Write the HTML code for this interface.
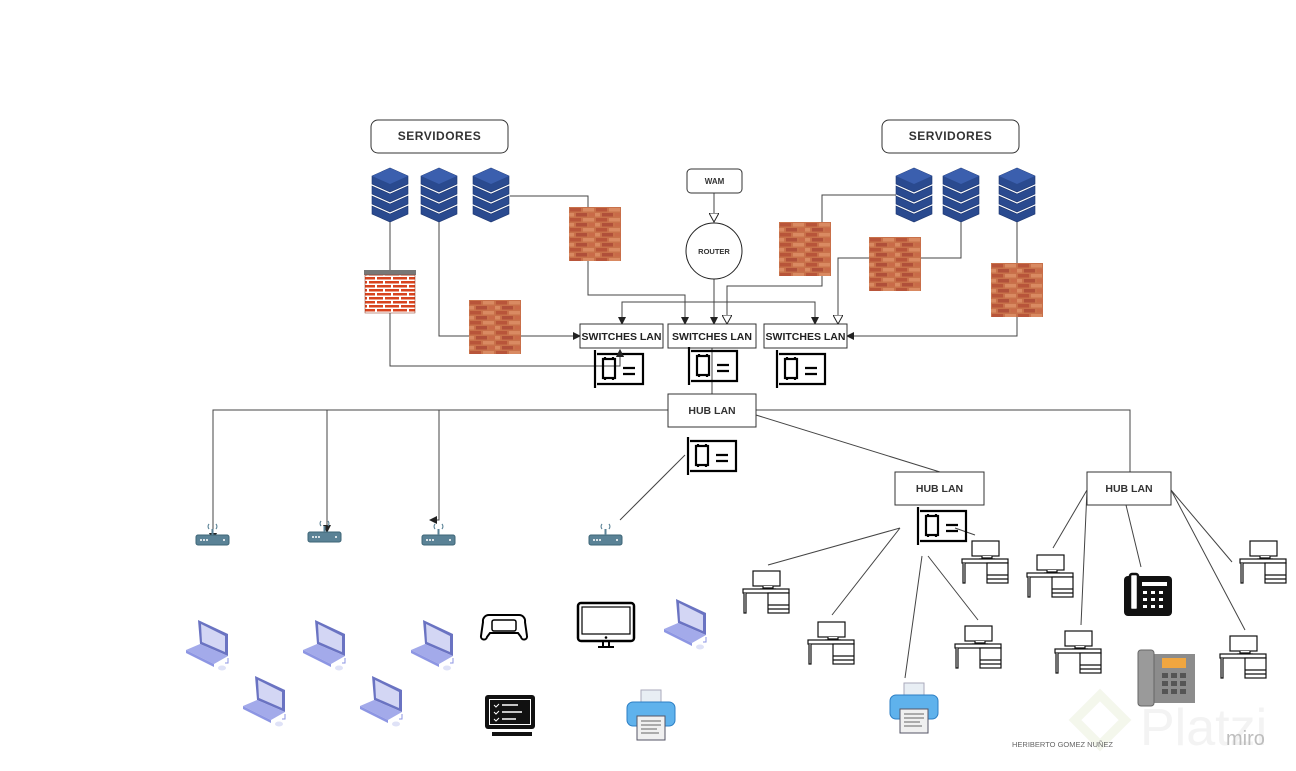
<!DOCTYPE html>
<html><head><meta charset="utf-8"><style>
html,body{margin:0;padding:0;background:#fff;}
svg{display:block;font-family:"Liberation Sans",sans-serif;}
</style></head><body>
<svg width="1296" height="771" viewBox="0 0 1296 771" xmlns="http://www.w3.org/2000/svg">
<defs>
<marker id="a" markerWidth="8" markerHeight="8" refX="7" refY="4" orient="auto" markerUnits="userSpaceOnUse"><path d="M0,0 L8,4 L0,8 z" fill="#222"/></marker>
<marker id="o" markerWidth="10" markerHeight="10" refX="9" refY="5" orient="auto" markerUnits="userSpaceOnUse"><path d="M0,0 L9,5 L0,10 z" fill="#fff" stroke="#222"/></marker>
<pattern id="brick" width="26" height="10" patternUnits="userSpaceOnUse">
<rect width="26" height="10" fill="#c8714a"/>
<rect x="1" y="1" width="11" height="3.5" fill="#b8553a"/><rect x="14" y="1" width="11" height="3.5" fill="#d98a62"/>
<rect x="-6" y="6" width="11" height="3.5" fill="#d98a62"/><rect x="7" y="6" width="11" height="3.5" fill="#b0503a"/><rect x="20" y="6" width="11" height="3.5" fill="#c96a48"/>
</pattern>
<pattern id="brick2" width="16" height="8" patternUnits="userSpaceOnUse">
<rect width="16" height="8" fill="#fff"/>
<rect x="1" y="1" width="14" height="2.5" fill="#d8431e"/><rect x="-7" y="5" width="14" height="2.5" fill="#d8431e"/><rect x="9" y="5" width="14" height="2.5" fill="#d8431e"/>
</pattern>
<g id="srv">
<g fill="#2a4a8f" stroke="#1c3570" stroke-width="0.6">
<path d="M0,38 L18,46 L36,38 L36,46 L18,54 L0,46z"/>
<path d="M0,28 L18,36 L36,28 L36,36 L18,44 L0,36z"/>
<path d="M0,18 L18,26 L36,18 L36,26 L18,34 L0,26z"/>
<path d="M0,8 L18,0 L36,8 L36,16 L18,24 L0,16z"/>
</g>
<path d="M0,8 L18,16 L36,8 L18,0z" fill="#3b5fae"/>
</g>
<g id="fw"><rect width="52" height="54" fill="url(#brick)"/></g>
<g id="nic" fill="none" stroke="#000" stroke-width="2.2">
<path d="M0,0 L0,38"/><path d="M2,4 L48,4 L48,34 L2,34"/>
<rect x="8" y="9" width="12" height="19"/><path d="M10,7 v2 M18,7 v2 M10,28 v2 M18,28 v2"/>
<path d="M28,18 h12 M28,24 h12"/>
</g>
<g id="wifi">
<rect x="0" y="12" width="33" height="10" rx="2" fill="#5a8296" stroke="#3e6677"/>
<circle cx="5" cy="17" r="1" fill="#fff"/><circle cx="8" cy="17" r="1" fill="#fff"/><circle cx="11" cy="17" r="1" fill="#fff"/><circle cx="28" cy="17" r="1" fill="#fff"/>
<path d="M16.5,12 v-6" stroke="#5a8296" stroke-width="2"/>
<path d="M13,6 a4,4 0 0 1 0,-5 M20,1 a4,4 0 0 1 0,5" stroke="#5a8296" fill="none" stroke-width="1.2"/>
</g>
<g id="desk" fill="#fff" stroke="#111" stroke-width="1.2">
<rect x="10" y="0" width="27" height="15"/><path d="M20,15 v2 h10 v-2 M17,18 h16"/>
<rect x="0" y="18" width="46" height="4"/><path d="M1,22 v20 h2 v-20"/>
<rect x="25" y="22" width="21" height="20"/><path d="M25,34 h21 M25,38 h21"/>
</g>
<g id="lap">
<path d="M12,0 L42,14 L42,36 L14,24z" fill="#6a73c2"/><path d="M15,4 L39,16 L39,32 L16,22z" fill="#d3d6f4"/>
<path d="M0,30 L14,24 L42,36 L28,44z" fill="#a3aaea"/><path d="M0,30 L28,44 L28,47 L0,33z" fill="#8d96e3"/>
<path d="M42,38 v5 h-3" stroke="#8d96e3" fill="none"/><ellipse cx="36" cy="48" rx="4" ry="2.5" fill="#dfe2f7"/>
</g>
<g id="prn">
<rect x="14" y="0" width="20" height="14" fill="#e8eef4" stroke="#aab"/>
<rect x="0" y="12" width="48" height="24" rx="6" fill="#5fb2ec" stroke="#2d7fc4"/>
<rect x="10" y="26" width="28" height="24" fill="#f0f0f0" stroke="#556"/>
<path d="M14,31 h20 M14,35 h20 M14,39 h16 M14,43 h18" stroke="#666"/>
</g>
</defs>

<rect x="371" y="120" width="137" height="33" rx="7" fill="#fff" stroke="#333"/>
<text x="439.5" y="140" font-size="12" font-weight="bold" text-anchor="middle" fill="#333" letter-spacing="0.5">SERVIDORES</text>
<rect x="882" y="120" width="137" height="33" rx="7" fill="#fff" stroke="#333"/>
<text x="950.5" y="140" font-size="12" font-weight="bold" text-anchor="middle" fill="#333" letter-spacing="0.5">SERVIDORES</text>

<g fill="none" stroke="#444" stroke-width="1">
<path d="M390,222 V270 M390,313 V366 H620 V350" marker-end="url(#a)"/>
<path d="M439,222 V336 H580" marker-end="url(#a)"/>
<path d="M510,196 H588 V295 H685 V324" marker-end="url(#a)"/>
<path d="M714,193 V222" marker-end="url(#o)"/>
<path d="M714,279 V324" marker-end="url(#a)"/>
<path d="M714,302 H622 V324" marker-end="url(#a)"/>
<path d="M714,302 H815 V324" marker-end="url(#a)"/>
<path d="M896,195 H822 V222 M822,274 V286 H727 V324" marker-end="url(#o)"/>
<path d="M961,222 V258 H921 M869,258 H838 V324" marker-end="url(#o)"/>
<path d="M1017,222 V263 M1017,316 V336 H847" marker-end="url(#a)"/>
<path d="M712,348 V394"/>
<path d="M668,410 H213 V540" marker-end="url(#a)"/>
<path d="M327,410 V532" marker-end="url(#a)"/>
<path d="M439,410 V520 H430" marker-end="url(#a)"/>
<path d="M756,410 H1130 V472"/>
<path d="M756,415 L940,472"/>
<path d="M685,455 L620,520"/>
<path d="M900,528 L768,565 M900,528 L832,615 M922,556 L905,678 M928,556 L978,620 M955,528 L975,535"/>
<path d="M1087,490 L1053,548 M1087,490 L1081,625 M1126,505 L1141,567 M1171,490 L1232,562 M1171,490 L1245,630"/>
</g>

<use href="#srv" x="372" y="168"/><use href="#srv" x="421" y="168"/><use href="#srv" x="473" y="168"/>
<use href="#srv" x="896" y="168"/><use href="#srv" x="943" y="168"/><use href="#srv" x="999" y="168"/>

<rect x="364" y="270" width="52" height="5" fill="#777"/>
<rect x="365" y="275" width="50" height="38" fill="url(#brick2)" stroke="#8a2a10" stroke-width="0.5"/>
<use href="#fw" x="569" y="207"/><use href="#fw" x="469" y="300"/>
<use href="#fw" x="779" y="222"/><use href="#fw" x="869" y="237"/><use href="#fw" x="991" y="263"/>

<rect x="687" y="169" width="55" height="24" rx="4" fill="#fff" stroke="#333"/>
<text x="714.5" y="184" font-size="8" font-weight="bold" text-anchor="middle" fill="#333">WAM</text>
<circle cx="714" cy="251" r="28" fill="#fff" stroke="#222"/>
<text x="714" y="254" font-size="7.5" font-weight="bold" text-anchor="middle" fill="#333">ROUTER</text>

<g fill="#fff" stroke="#333"><rect x="580" y="324" width="83" height="24"/><rect x="668" y="324" width="88" height="24"/><rect x="764" y="324" width="83" height="24"/></g>
<g font-size="10.5" font-weight="bold" text-anchor="middle" fill="#222">
<text x="621.5" y="340">SWITCHES LAN</text><text x="712" y="340">SWITCHES LAN</text><text x="805.5" y="340">SWITCHES LAN</text></g>
<use href="#nic" x="595" y="350"/><use href="#nic" x="689" y="347"/><use href="#nic" x="777" y="350"/>
<path d="M620,366 V350" stroke="#444" marker-end="url(#a)"/>

<g fill="#fff" stroke="#333"><rect x="668" y="394" width="88" height="33"/><rect x="895" y="472" width="89" height="33"/><rect x="1087" y="472" width="84" height="33"/></g>
<g font-size="10.5" font-weight="bold" text-anchor="middle" fill="#333">
<text x="712" y="414">HUB LAN</text><text x="939.5" y="492">HUB LAN</text><text x="1129" y="492">HUB LAN</text></g>
<use href="#nic" x="688" y="437"/><use href="#nic" x="918" y="507"/>

<use href="#wifi" x="196" y="523"/><use href="#wifi" x="308" y="520"/><use href="#wifi" x="422" y="523"/><use href="#wifi" x="589" y="523"/>

<use href="#desk" x="743" y="571"/><use href="#desk" x="808" y="622"/><use href="#desk" x="955" y="626"/><use href="#desk" x="962" y="541"/>
<use href="#desk" x="1027" y="555"/><use href="#desk" x="1055" y="631"/><use href="#desk" x="1240" y="541"/><use href="#desk" x="1220" y="636"/>

<use href="#lap" x="186" y="620"/><use href="#lap" x="303" y="620"/><use href="#lap" x="411" y="620"/>
<use href="#lap" x="243" y="676"/><use href="#lap" x="360" y="676"/><use href="#lap" x="664" y="599"/>

<rect x="578" y="603" width="56" height="38" rx="3" fill="#fff" stroke="#000" stroke-width="2.5"/>
<rect x="582" y="607" width="48" height="27" fill="none" stroke="#000" stroke-width="1.2"/>
<circle cx="606" cy="637.5" r="1.3"/><path d="M603,641 v5 M609,641 v5 M598,647 h16" stroke="#000" stroke-width="2"/>
<path d="M489,615 h30 a6,6 0 0 1 6,7 l2,14 a3,3 0 0 1 -6,1 l-3,-4 h-28 l-3,4 a3,3 0 0 1 -6,-1 l2,-14 a6,6 0 0 1 6,-7z" fill="#fff" stroke="#000" stroke-width="2"/>
<rect x="492" y="620" width="24" height="11" rx="2" fill="none" stroke="#000" stroke-width="1.5"/>
<rect x="485" y="695" width="50" height="34" rx="3" fill="#111"/>
<rect x="489" y="699" width="42" height="26" fill="#fff"/><rect x="490" y="700" width="40" height="24" fill="#111"/>
<path d="M494,705 l2,2 3,-3 M494,712 l2,2 3,-3 M494,719 l2,2 3,-3" stroke="#fff" fill="none"/>
<path d="M502,705 h16 M502,712 h20 M502,719 h14" stroke="#fff" stroke-width="1.5"/>
<rect x="492" y="732" width="40" height="4" fill="#111"/>
<use href="#prn" x="627" y="690"/><use href="#prn" x="890" y="683"/>
<rect x="1124" y="576" width="48" height="40" rx="4" fill="#111"/>
<rect x="1130" y="574" width="8" height="36" rx="2" fill="#fff" stroke="#111" stroke-width="2.5"/>
<rect x="1142" y="582" width="25" height="4" fill="#fff"/>
<g fill="#fff"><rect x="1143" y="591" width="4" height="3"/><rect x="1151" y="591" width="4" height="3"/><rect x="1159" y="591" width="4" height="3"/><rect x="1143" y="598" width="4" height="3"/><rect x="1151" y="598" width="4" height="3"/><rect x="1159" y="598" width="4" height="3"/><rect x="1143" y="605" width="4" height="3"/><rect x="1151" y="605" width="4" height="3"/><rect x="1159" y="605" width="4" height="3"/></g>
<rect x="1148" y="654" width="47" height="49" fill="#8c8c8c"/>
<rect x="1138" y="650" width="16" height="56" rx="3" fill="#9a9a9a" stroke="#666"/>
<rect x="1162" y="658" width="24" height="10" fill="#f0a640"/>
<g fill="#555"><rect x="1162" y="673" width="6" height="5"/><rect x="1171" y="673" width="6" height="5"/><rect x="1180" y="673" width="6" height="5"/><rect x="1162" y="681" width="6" height="5"/><rect x="1171" y="681" width="6" height="5"/><rect x="1180" y="681" width="6" height="5"/><rect x="1162" y="689" width="6" height="5"/><rect x="1171" y="689" width="6" height="5"/><rect x="1180" y="689" width="6" height="5"/></g>

<path d="M1100,695 L1125,720 L1100,745 L1075,720z" fill="none" stroke="#f4f7ec" stroke-width="9"/>
<text x="1140" y="745" font-size="52" fill="#f3f3f3">Platzi</text>
<text x="1226" y="745" font-size="20" fill="#bdbdbd">miro</text>
<text x="1012" y="747" font-size="7.5" fill="#666">HERIBERTO GOMEZ NUÑEZ</text>
</svg>
</body></html>
